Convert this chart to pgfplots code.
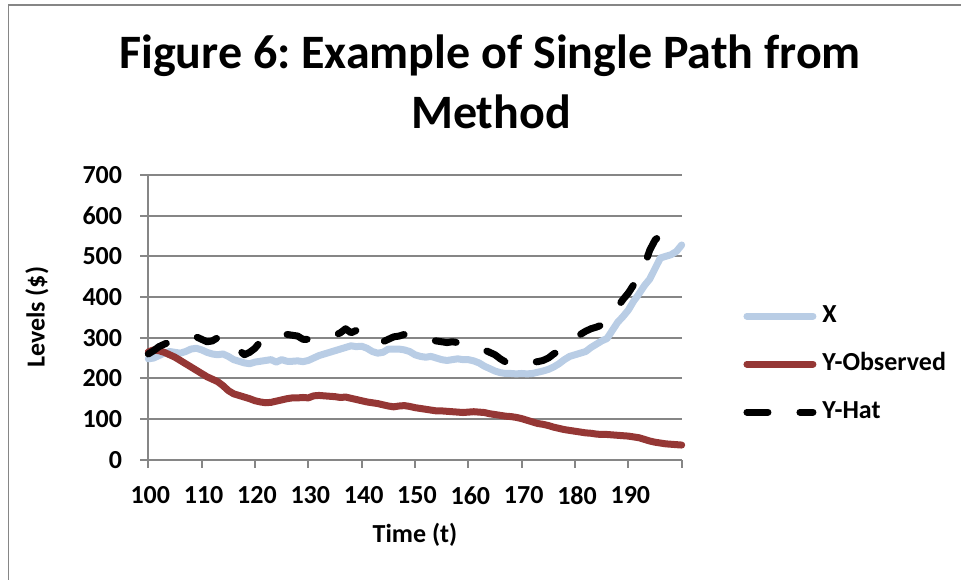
\documentclass[border=0pt]{standalone}
\usepackage{fontspec}
\setmainfont{Carlito}
\usepackage{pgfplots}
\pgfplotsset{compat=1.18}
\frenchspacing

\definecolor{xblue}{RGB}{185,205,229}
\definecolor{yred}{RGB}{149,55,53}
\definecolor{gridgray}{RGB}{134,134,134}

\pgfplotstableread{
t v
100 248
101 250
102 256
103 262
104 266
105 264
106 262
107 266
108 272
109 274
110 270
111 264
112 260
113 258
114 260
115 254
116 246
117 242
118 238
119 236
120 240
121 242
122 244
123 246
124 240
125 246
126 242
127 242
128 243
129 241
130 244
131 250
132 256
133 260
134 264
135 268
136 272
137 276
138 280
139 278
140 279
141 274
142 266
143 262
144 264
145 272
146 272
147 272
148 270
149 266
150 258
151 254
152 252
153 254
154 250
155 246
156 244
157 246
158 248
159 246
160 246
161 243
162 238
163 230
164 224
165 218
166 214
167 212
168 212
169 211
170 212
171 211
172 212
173 215
174 218
175 222
176 228
177 236
178 246
179 254
180 258
181 262
182 266
183 276
184 284
185 292
186 298
187 318
188 338
189 352
190 368
191 390
192 408
193 428
194 444
195 470
196 496
197 500
198 504
199 512
200 528
}\seriesX

\pgfplotstableread{
t v
100 265
101 270
102 268
103 264
104 258
105 252
106 244
107 236
108 228
109 220
110 212
111 204
112 198
113 192
114 182
115 170
116 162
117 158
118 154
119 150
120 145
121 142
122 140
123 141
124 144
125 147
126 150
127 152
128 152
129 153
130 152
131 157
132 158
133 157
134 156
135 155
136 153
137 154
138 151
139 148
140 145
141 142
142 140
143 138
144 135
145 132
146 130
147 132
148 133
149 131
150 128
151 126
152 124
153 122
154 120
155 120
156 119
157 118
158 117
159 116
160 117
161 118
162 117
163 116
164 113
165 111
166 109
167 107
168 106
169 104
170 101
171 97
172 93
173 89
174 87
175 84
176 80
177 77
178 74
179 72
180 70
181 68
182 66
183 65
184 63
185 62
186 62
187 61
188 60
189 59
190 58
191 56
192 54
193 50
194 46
195 43
196 41
197 39
198 38
199 37
200 36
}\seriesYobs

\pgfplotstableread{
t v
100 260
101 268
102 278
103 284
104 290
105 294
106 298
107 300
108 302
109 302
110 296
111 290
112 292
113 300
114 304
115 296
116 284
117 270
118 258
119 264
120 274
121 290
122 298
123 304
124 308
125 306
126 308
127 306
128 304
129 296
130 296
131 300
132 302
133 304
134 306
135 306
136 312
137 322
138 312
139 318
140 316
141 306
142 296
143 290
144 290
145 296
146 302
147 304
148 308
149 306
150 304
151 300
152 296
153 294
154 292
155 290
156 288
157 290
158 288
159 284
160 280
161 276
162 274
163 270
164 264
165 258
166 248
167 240
168 236
169 234
170 236
171 238
172 240
173 241
174 244
175 250
176 260
177 268
178 278
179 290
180 300
181 308
182 316
183 322
184 326
185 331
186 340
187 356
188 376
189 394
190 410
191 430
192 448
193 476
194 515
195 540
196 552
}\seriesYhat

\begin{document}
\begin{tikzpicture}
\path[use as bounding box] (0,0) rectangle (961pt,579pt);
% outer chart frame
\draw[gridgray, line width=1.5pt] (8.3pt,-5pt) -- (8.3pt,574pt) -- (970pt,574pt);
% title
\node[font=\fontsize{48}{52}\selectfont\bfseries, anchor=base, inner sep=0pt]
  at (490pt,510.5pt) {Figure 6: Example of Single Path from};
\node[font=\fontsize{48}{52}\selectfont\bfseries, anchor=base, inner sep=0pt]
  at (491pt,450pt) {Method};

\begin{axis}[
  at={(148.3pt,119.3pt)}, anchor=south west,
  scale only axis, width=533.4pt, height=284.7pt,
  xmin=100, xmax=200, ymin=0, ymax=700,
  axis x line=bottom, axis y line=left,
  axis line style={gridgray, line width=2pt, -},
  xtick={100,110,...,200},
  xticklabels={100,110,120,130,140,150,160,170,180,190,{}},
  ytick={0,100,...,700},
  yticklabels={0,100,200,300,400,500,600,700},
  ymajorgrids,
  major grid style={gridgray, line width=2pt},
  tick align=outside, major tick length=8pt,
  tick style={gridgray, line width=2pt},
  ticklabel style={font=\fontsize{26}{30}\selectfont\bfseries, inner sep=0pt},
  xticklabel style={anchor=north, yshift=-19pt, xshift=2pt},
  yticklabel style={anchor=east, xshift=-18pt},
  xlabel={Time (t)},
  ylabel={Levels (\$)},
  label style={font=\fontsize{26}{30}\selectfont\bfseries},
  xlabel style={at={(axis description cs:0.5,-0.2645)}, anchor=center},
  ylabel style={at={(axis description cs:-0.2087,0.5)}, anchor=center},
  clip=false,
  every axis plot/.append style={line width=7pt, line cap=round, line join=round},
  legend image code/.code={\draw (0pt,0pt) -- (66pt,0pt);},
  legend cell align=left,
  legend style={
    at={(axis description cs:1.1154,0.336)}, anchor=west,
    draw=none, fill=none, inner sep=0pt,
    font=\fontsize{26}{30}\selectfont\bfseries,
    nodes={inner sep=0pt, text height=19pt, text depth=6pt},
    row sep=23pt, column sep=6pt,
  },
]
\addplot[xblue] table[x=t, y=v] {\seriesX};
\addlegendentry{X}
\addplot[yred] table[x=t, y=v] {\seriesYobs};
\addlegendentry{Y-Observed}
\addplot[black, dash pattern=on 21pt off 32pt] table[x=t, y=v] {\seriesYhat};
\addlegendentry{Y-Hat}
\end{axis}
\end{tikzpicture}
\end{document}
